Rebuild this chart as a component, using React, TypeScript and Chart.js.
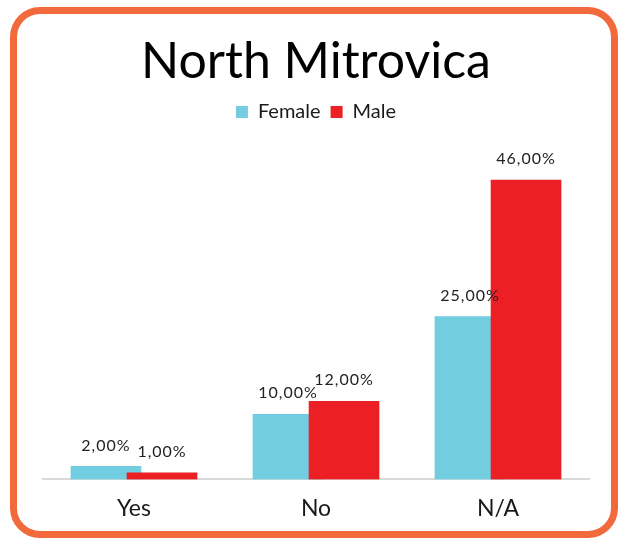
import React, { useEffect, useRef } from 'react';
import { Chart, registerables } from 'chart.js';
Chart.register(...registerables);

const categories = ['Yes', 'No', 'N/A'];
const seriesNames = ['Female', 'Male'];
const femaleValues = [2, 10, 25];
const maleValues = [1, 12, 46];
const seriesColors = ['#72CDE0', '#EC2024'];
const yMax = 50;
const groupOffset = 0.154;

export default function App() {
  const ref = useRef<HTMLCanvasElement>(null);
  useEffect(() => {
    if (!ref.current) return;
    const labelPlugin = {
      id: 'barLabels',
      afterDatasetsDraw(chart: any) {
        const ctx = chart.ctx;
        ctx.save();
        ctx.font = '16px Lato';
        try { ctx.letterSpacing = '1px'; } catch (e) {}
        ctx.fillStyle = '#222';
        ctx.textAlign = 'center';
        ctx.textBaseline = 'middle';
        chart.data.datasets.forEach((ds: any, i: number) => {
          const meta = chart.getDatasetMeta(i);
          meta.data.forEach((el: any, j: number) => {
            const v = ds.data[j].y as number;
            ctx.fillText(v.toFixed(2).replace('.', ',') + '%', el.x, el.y - 21);
          });
        });
        ctx.restore();
      },
    };
    const legendPad = {
      id: 'legendPad',
      beforeLayout(chart: any) {
        const lg = chart.legend;
        if (lg && !lg._patched) {
          const f = lg.fit;
          lg.fit = function () {
            f.call(this);
            this.height += 22;
          };
          lg._patched = true;
        }
      },
    };
    const chart = new Chart(ref.current, {
      type: 'bar',
      data: {
        datasets: [
          {
            label: seriesNames[0],
            data: categories.map((_, i) => ({ x: i - groupOffset, y: femaleValues[i] })),
            backgroundColor: seriesColors[0],
            order: 1,
          },
          {
            label: seriesNames[1],
            data: categories.map((_, i) => ({ x: i + groupOffset, y: maleValues[i] })),
            backgroundColor: seriesColors[1],
            order: 0,
          },
        ],
      },
      options: {
        animation: false,
        responsive: false,
        devicePixelRatio: 1,
        datasets: { bar: { grouped: false, barThickness: 70 } },
        layout: { padding: { left: 43, right: 29, top: 14, bottom: 1 } },
        plugins: {
          title: {
            display: true,
            text: 'North Mitrovica',
            color: '#000',
            font: { family: 'Lato', size: 50, weight: 'normal' },
            padding: { top: 18, bottom: 0 },
          },
          legend: {
            display: true,
            labels: {
              boxWidth: 12,
              boxHeight: 12,
              color: '#1a1a1a',
              font: { family: 'Lato', size: 20 },
              padding: 10,
              sort: (a: any, b: any) => a.datasetIndex - b.datasetIndex,
            },
          },
          tooltip: { enabled: false },
        },
        scales: {
          x: {
            type: 'linear',
            min: -0.5,
            max: categories.length - 0.5,
            offset: false,
            grid: { display: false, drawTicks: false },
            border: { display: true, color: '#D9D9D9', width: 2 },
            afterBuildTicks: (scale: any) => {
              scale.ticks = categories.map((_, i) => ({ value: i }));
            },
            ticks: {
              color: '#1a1a1a',
              font: { family: 'Lato', size: 23 },
              padding: 15,
              autoSkip: false,
              maxRotation: 0,
              callback: (v: any) => categories[Math.round(Number(v))] ?? '',
            },
          },
          y: {
            display: false,
            min: 0,
            max: yMax,
          },
        },
      },
      plugins: [labelPlugin, legendPad],
    } as any);
    return () => chart.destroy();
  }, []);
  return (
    <div>
      <div
        style={{
          position: 'fixed',
          left: 10,
          top: 7,
          width: 608,
          height: 531,
          boxSizing: 'border-box',
          border: '7px solid #F26A3B',
          borderRadius: 30,
        }}
      />
      <canvas
        ref={ref}
        width={618}
        height={538}
        style={{ position: 'fixed', left: 0, top: 0, width: 618, height: 538 }}
      />
    </div>
  );
}
